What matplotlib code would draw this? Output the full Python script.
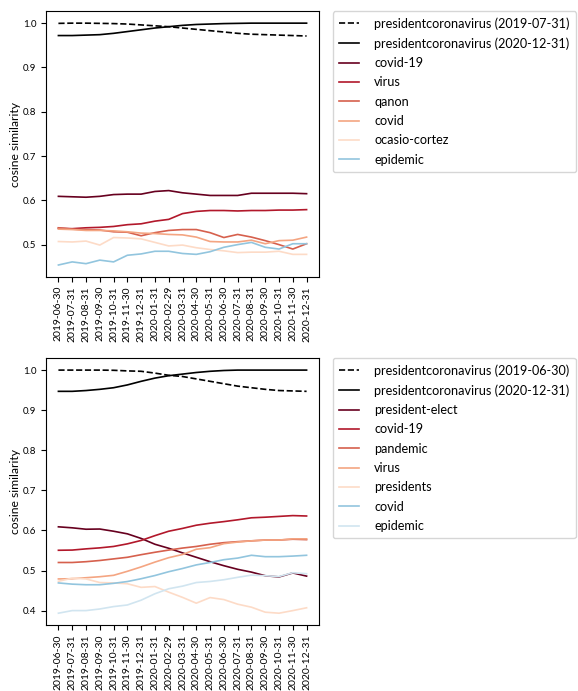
import matplotlib
matplotlib.use("Agg")
import matplotlib.pyplot as plt

dates = ["2019-06-30", "2019-07-31", "2019-08-31", "2019-09-30", "2019-10-31",
         "2019-11-30", "2019-12-31", "2020-01-31", "2020-02-29", "2020-03-31",
         "2020-04-30", "2020-05-31", "2020-06-30", "2020-07-31", "2020-08-31",
         "2020-09-30", "2020-10-31", "2020-11-30", "2020-12-31"]

# top panel: nearest neighbours of "president" + "coronavirus"
top_first_label = "presidentcoronavirus (2019-07-31)"
top_first = [0.9995, 1.0, 1.0, 0.9995, 0.999, 0.998, 0.996, 0.994, 0.992, 0.989,
             0.986, 0.983, 0.980, 0.977, 0.975, 0.974, 0.973, 0.972, 0.971]
top_last_label = "presidentcoronavirus (2020-12-31)"
top_last = [0.972, 0.972, 0.973, 0.974, 0.977, 0.981, 0.985, 0.989, 0.992, 0.995,
            0.997, 0.998, 0.999, 0.9995, 1.0, 1.0, 1.0, 1.0, 1.0]
top_words = ["covid-19", "virus", "qanon", "covid", "ocasio-cortez", "epidemic"]
top_values = [
    [0.609, 0.608, 0.607, 0.609, 0.613, 0.614, 0.614, 0.620, 0.622, 0.617,
     0.614, 0.611, 0.611, 0.611, 0.616, 0.616, 0.616, 0.616, 0.615],
    [0.537, 0.536, 0.538, 0.539, 0.541, 0.545, 0.547, 0.553, 0.557, 0.570,
     0.575, 0.577, 0.577, 0.576, 0.577, 0.577, 0.578, 0.578, 0.579],
    [0.538, 0.535, 0.534, 0.533, 0.529, 0.528, 0.520, 0.527, 0.532, 0.534,
     0.534, 0.527, 0.516, 0.523, 0.517, 0.509, 0.500, 0.490, 0.502],
    [0.535, 0.534, 0.532, 0.532, 0.531, 0.529, 0.526, 0.525, 0.523, 0.522,
     0.517, 0.507, 0.506, 0.506, 0.510, 0.502, 0.509, 0.510, 0.517],
    [0.507, 0.506, 0.508, 0.499, 0.516, 0.515, 0.513, 0.505, 0.497, 0.499,
     0.493, 0.489, 0.486, 0.482, 0.483, 0.483, 0.485, 0.478, 0.478],
    [0.454, 0.461, 0.457, 0.465, 0.461, 0.476, 0.479, 0.485, 0.485, 0.480,
     0.478, 0.484, 0.494, 0.500, 0.505, 0.494, 0.490, 0.502, 0.502],
]

# bottom panel
bottom_first_label = "presidentcoronavirus (2019-06-30)"
bottom_first = [1.0, 1.0, 1.0, 1.0, 0.9995, 0.998, 0.997, 0.9925, 0.987, 0.984,
                0.978, 0.972, 0.966, 0.960, 0.956, 0.952, 0.949, 0.948, 0.947]
bottom_last_label = "presidentcoronavirus (2020-12-31)"
bottom_last = [0.947, 0.947, 0.949, 0.952, 0.956, 0.963, 0.972, 0.980, 0.986, 0.990,
               0.994, 0.997, 0.999, 1.0, 1.0, 1.0, 1.0, 1.0, 1.0]
bottom_words = ["president-elect", "covid-19", "pandemic", "virus", "presidents",
                "covid", "epidemic"]
bottom_values = [
    [0.609, 0.6065, 0.603, 0.6035, 0.598, 0.5915, 0.580, 0.5655, 0.5555, 0.544,
     0.533, 0.522, 0.512, 0.503, 0.496, 0.487, 0.484, 0.494, 0.486],
    [0.5505, 0.551, 0.554, 0.5565, 0.560, 0.5665, 0.575, 0.587, 0.598, 0.605,
     0.613, 0.618, 0.622, 0.6265, 0.6315, 0.633, 0.635, 0.637, 0.636],
    [0.520, 0.520, 0.522, 0.525, 0.529, 0.533, 0.5395, 0.5455, 0.551, 0.556,
     0.560, 0.5655, 0.5695, 0.572, 0.574, 0.576, 0.576, 0.578, 0.577],
    [0.479, 0.4795, 0.482, 0.4845, 0.488, 0.498, 0.509, 0.521, 0.532, 0.540,
     0.553, 0.557, 0.567, 0.571, 0.574, 0.576, 0.576, 0.579, 0.579],
    [0.473, 0.481, 0.479, 0.470, 0.469, 0.467, 0.458, 0.460, 0.446, 0.433,
     0.4185, 0.4325, 0.4275, 0.416, 0.4085, 0.396, 0.3935, 0.400, 0.407],
    [0.469, 0.466, 0.4645, 0.4645, 0.468, 0.4725, 0.4795, 0.4875, 0.497, 0.505,
     0.514, 0.520, 0.527, 0.531, 0.538, 0.5345, 0.5345, 0.536, 0.538],
    [0.3935, 0.400, 0.400, 0.404, 0.410, 0.414, 0.426, 0.442, 0.4545, 0.461,
     0.470, 0.4727, 0.477, 0.483, 0.4885, 0.487, 0.485, 0.4945, 0.492],
]

palette = ["#67001f", "#b2182b", "#d6604d", "#f4a582", "#fddbc7", "#92c5de", "#d1e5f0"]
top_colors = palette[:6]
bottom_colors = palette

label_font = "Lato"


def draw_panel(ax, first_label, first, last_label, last, words, values, colors):
    ax.plot(dates, first, color="black", linestyle="--", linewidth=1.2, label=first_label)
    ax.plot(dates, last, color="black", linewidth=1.2, label=last_label)
    for word, vals, c in zip(words, values, colors):
        ax.plot(dates, vals, color=c, linewidth=1.2, label=word)
    ax.set_ylabel("cosine similarity", family=label_font, fontsize=8.7)
    ax.yaxis.set_label_coords(-0.09, 0.5)
    ax.tick_params(axis="x", labelrotation=90, labelsize=7.5, pad=3,
                   labelfontfamily=label_font)
    ax.tick_params(axis="y", labelsize=7.0, labelfontfamily=label_font)
    ax.legend(loc="upper left", bbox_to_anchor=(1.05, 1.0), borderaxespad=0,
              prop={"family": label_font, "size": 9.1}, handlelength=1.6,
              handletextpad=1.2, labelspacing=0.58, borderpad=0.5)


def main():
    fig = plt.figure(figsize=(5.78, 6.91), dpi=100)
    ax1 = fig.add_axes([0.0796, 0.599, 0.4723, 0.385])
    ax2 = fig.add_axes([0.0796, 0.095, 0.4723, 0.387])

    draw_panel(ax1, top_first_label, top_first, top_last_label, top_last,
               top_words, top_values, top_colors)
    draw_panel(ax2, bottom_first_label, bottom_first, bottom_last_label, bottom_last,
               bottom_words, bottom_values, bottom_colors)

    fig.savefig("out.png", dpi=100)


if __name__ == "__main__":
    main()
